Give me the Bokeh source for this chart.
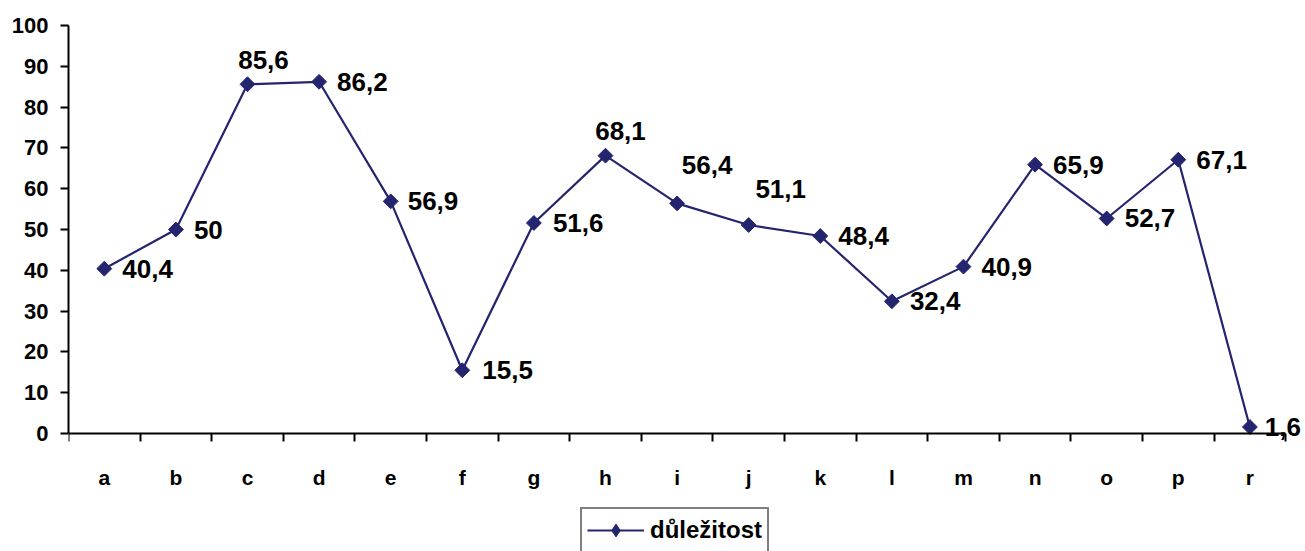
from bokeh.plotting import figure
from bokeh.models import (Range1d, FixedTicker, ColumnDataSource, LabelSet,
                          Legend, LegendItem)
from bokeh.core.properties import value
from bokeh.embed import file_html
from bokeh.resources import INLINE

# ---- data ----
categories = ["a", "b", "c", "d", "e", "f", "g", "h", "i", "j", "k", "l", "m", "n", "o", "p", "r"]
values = [40.4, 50, 85.6, 86.2, 56.9, 15.5, 51.6, 68.1, 56.4, 51.1, 48.4, 32.4, 40.9, 65.9, 52.7, 67.1, 1.6]
series_name = "důležitost"
y_ticks = [0, 10, 20, 30, 40, 50, 60, 70, 80, 90, 100]

# ---- label placement (style) ----
label_dx = [18, 18, 16, 18, 17, 20, 19, 15, 30, 32, 18, 18, 18, 18, 18, 18, 15]
label_dy = [0, 0, 24, 0, 0, 0, 0, 25, 38, 36, 0, 0, 0, 0, 0, 0, 0]
label_align = ["left", "left", "center", "left", "left", "left", "left", "center",
               "center", "center", "left", "left", "left", "left", "left", "left", "left"]

LINE = "#24246F"
FONT = "Liberation Sans"

n = len(categories)
xs = [i + 0.5 for i in range(n)]
texts = [("%g" % v).replace(".", ",") for v in values]

src = ColumnDataSource(dict(x=xs, y=values, t=texts, dx=label_dx, dy=label_dy, al=label_align))

# frame extends a little right of the last category (room for "1,6")
# and down to the canvas bottom (room for the x labels and legend)
X_END = 17.249
Y_START = -28.92

p = figure(width=1305, height=551, output_backend="svg", toolbar_location=None,
           x_range=Range1d(0, X_END), y_range=Range1d(Y_START, 100),
           min_border_left=68, min_border_right=2, min_border_top=25, min_border_bottom=0)
p.outline_line_color = None
p.xgrid.visible = False
p.ygrid.visible = False
p.background_fill_color = "white"
p.border_fill_color = "white"

line_r = p.line("x", "y", source=src, line_color=LINE, line_width=2.2)
mark_r = p.scatter("x", "y", source=src, marker="square", angle=0.785398, size=10.5,
                   fill_color=LINE, line_color=LINE)
# legend-only marker (legend glyphs ignore the rotation of the squares); NaN = not drawn in plot
nan = float("nan")
legend_mark = p.scatter(x=[nan], y=[nan], marker="diamond", fill_color=LINE, line_color=LINE)

# x axis at y=0: boundary ticks as minor ticks, labels at centres
xa = p.xaxis[0]
xa.fixed_location = 0
xa.bounds = (0, n)
xa.ticker = FixedTicker(ticks=xs, minor_ticks=list(range(n + 1)))
xa.major_label_overrides = {x: c for x, c in zip(xs, categories)}
xa.major_tick_out = 0
xa.major_tick_in = 0
xa.minor_tick_out = 8
xa.minor_tick_in = 0
xa.minor_tick_line_width = 2
xa.minor_tick_line_color = "black"
xa.axis_line_width = 2
xa.axis_line_color = "black"
xa.major_label_standoff = 24
xa.major_label_text_font = FONT
xa.major_label_text_font_style = "bold"
xa.major_label_text_font_size = "21px"
xa.major_label_text_color = "black"

ya = p.yaxis[0]
ya.bounds = (0, 100)
ya.ticker = FixedTicker(ticks=y_ticks, minor_ticks=[])
ya.major_tick_out = 8
ya.major_tick_in = 0
ya.major_tick_line_width = 2
ya.major_tick_line_color = "black"
ya.axis_line_width = 2
ya.axis_line_color = "black"
ya.major_label_standoff = 12
ya.major_label_text_font = FONT
ya.major_label_text_font_style = "bold"
ya.major_label_text_font_size = "22px"
ya.major_label_text_color = "black"

labels = LabelSet(x="x", y="y", text="t", source=src, x_offset="dx", y_offset="dy",
                  text_align="al", text_baseline="middle",
                  text_font=value(FONT), text_font_style="bold", text_font_size="26px",
                  text_color="black")
p.add_layout(labels)

legend = Legend(items=[LegendItem(label=series_name, renderers=[line_r, legend_mark])],
                location=(512, -2), orientation="horizontal",
                glyph_width=57, glyph_height=32, label_standoff=6, padding=5, margin=0,
                border_line_color="black", border_line_width=2,
                label_text_font=FONT, label_text_font_style="bold",
                label_text_font_size="24px", label_text_color="black",
                background_fill_color="white", background_fill_alpha=1)
p.add_layout(legend, "center")

open("out.html", "w").write(file_html(p, INLINE))
